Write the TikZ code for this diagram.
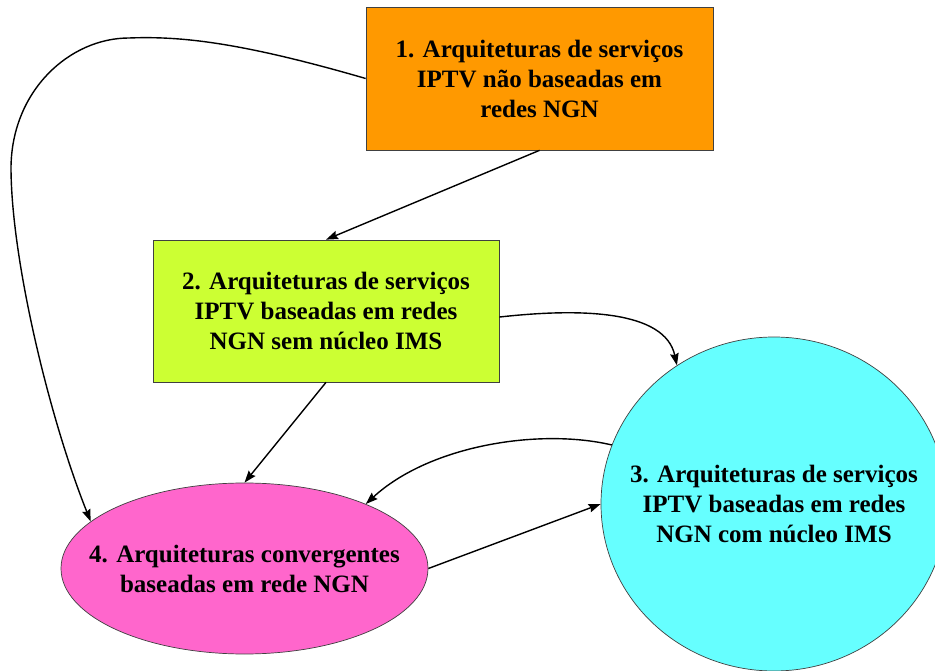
\documentclass[tikz,border=0pt]{standalone}
\usepackage{fontspec}
\setmainfont{Liberation Serif}
\usetikzlibrary{shapes.geometric,arrows.meta}
\definecolor{cOrange}{RGB}{255,153,0}
\definecolor{cLime}{RGB}{204,255,51}
\definecolor{cCyan}{RGB}{102,255,255}
\definecolor{cPink}{RGB}{255,102,204}
\tikzset{
  lbl/.style={font=\bfseries\fontsize{25}{30}\selectfont, align=center, text=black, inner sep=0pt},
  boxnode/.style={lbl, rectangle, draw=black!75, line width=0.7pt},
  ovalnode/.style={lbl, ellipse, draw=black!75, line width=0.7pt, inner xsep=-60pt, inner ysep=-10pt},
  conn/.style={draw=black, line width=1.4pt, -{Stealth[length=12pt,width=8.5pt,inset=1.5pt]}}
}
\begin{document}
\begin{tikzpicture}[x=1pt,y=1pt]
\useasboundingbox (0,0) rectangle (935,670);
\clip (0,0) rectangle (935,670);
\fill[white] (0,0) rectangle (935,670);

\node[boxnode, fill=cOrange, minimum width=347pt, minimum height=143pt] (n1) at (539.5,591.5)
  {1. Arquiteturas de serviços\\IPTV não baseadas em\\redes NGN};
\node[boxnode, fill=cLime, minimum width=346pt, minimum height=142pt] (n2) at (326,359)
  {2. Arquiteturas de serviços\\IPTV baseadas em redes\\NGN sem núcleo IMS};
\node[ovalnode, fill=cCyan, minimum width=346pt, minimum height=334pt] (n3) at (774,166)
  {3. Arquiteturas de serviços\\IPTV baseadas em redes\\NGN com núcleo IMS};
\node[ovalnode, fill=cPink, minimum width=367pt, minimum height=171pt] (n4) at (244.5,101.5)
  {4. Arquiteturas convergentes\\baseadas em rede NGN};

\draw[conn] (n1.west) .. controls (240,628) and (180,634) .. (129,632)
  .. controls (70,632) and (12,580) .. (11,503)
  .. controls (11,410) and (50,250) .. (n4.163);
\draw[conn] (n1.south) -- (n2.north);
\draw[conn] (n2.-2) .. controls (580,362) and (665,360) .. (n3.125);
\draw[conn] (n2.south) -- (n4.north);
\draw[conn] (n3.160) .. controls (540,242) and (430,225) .. (n4.28);
\draw[conn] (n4.east) -- (n3.west);
\end{tikzpicture}
\end{document}
